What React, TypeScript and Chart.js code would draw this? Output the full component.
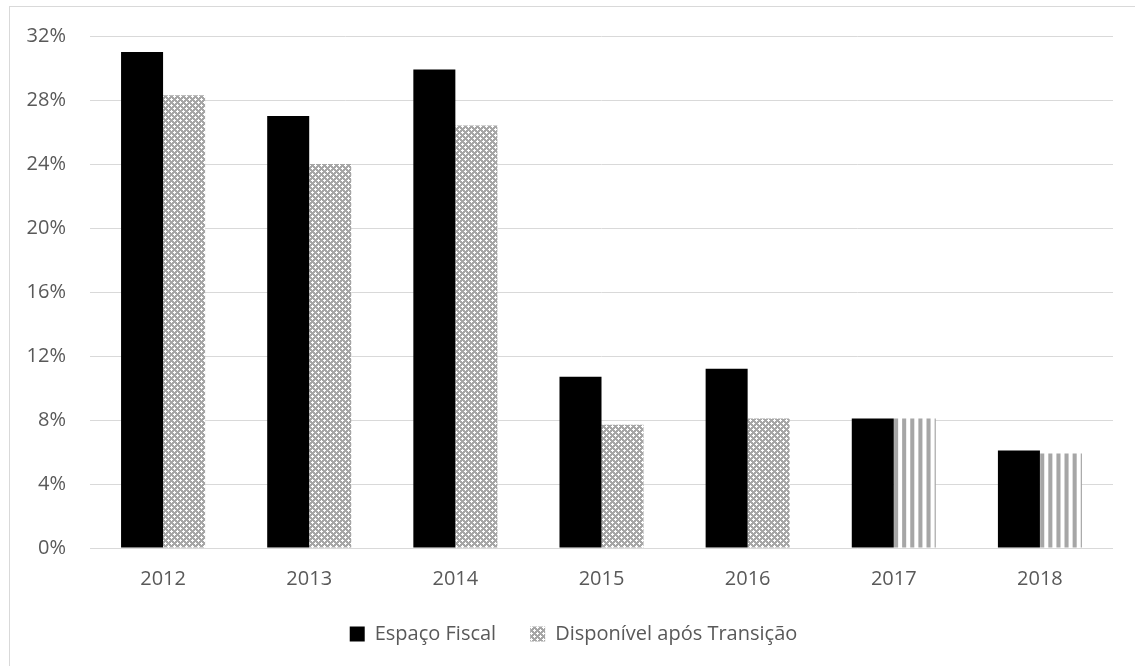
import React, { useEffect, useRef } from "react";
import { Chart, registerables } from "chart.js";

Chart.register(...registerables);

// Anos (categorias do eixo X)
const years = ["2012", "2013", "2014", "2015", "2016", "2017", "2018"];
// Espaço fiscal, em %
const espacoFiscal = [31.0, 27.0, 29.9, 10.7, 11.2, 8.1, 6.1];
// Espaço disponível após a transição, em %
const disponivel = [28.3, 24.0, 26.4, 7.7, 8.1, 8.1, 5.9];
// Anos em que a segunda série usa preenchimento listrado
const listrado = [false, false, false, false, false, true, true];
// Marcas do eixo Y, em %
const yTicks = [0, 4, 8, 12, 16, 20, 24, 28, 32];
const seriesNames = ["Espaço Fiscal", "Disponível após Transição"];

const FONT = "'Open Sans', 'Noto Sans', sans-serif";
const TEXT = "#595959";
const GRID = "#D9D9D9";

function confettiPattern(): CanvasPattern | string {
  const c = document.createElement("canvas");
  c.width = 6;
  c.height = 6;
  const g = c.getContext("2d");
  if (!g) return "#bbbbbb";
  g.fillStyle = "#a6a6a6";
  g.fillRect(0, 0, 6, 6);
  g.fillStyle = "#ffffff";
  const white = [
    [0, 0], [1, 0], [5, 0], [0, 1], [0, 5],
    [3, 3], [2, 3], [4, 3], [3, 2], [3, 4],
  ];
  white.forEach(([x, y]) => g.fillRect(x, y, 1, 1));
  return g.createPattern(c, "repeat") || "#bbbbbb";
}

function stripePattern(): CanvasPattern | string {
  const c = document.createElement("canvas");
  c.width = 8;
  c.height = 8;
  const g = c.getContext("2d");
  if (!g) return "#cccccc";
  g.fillStyle = "#ffffff";
  g.fillRect(0, 0, 8, 8);
  g.fillStyle = "#a6a6a6";
  g.fillRect(0, 0, 4, 8);
  const p = g.createPattern(c, "repeat");
  if (!p) return "#cccccc";
  if (typeof DOMMatrix !== "undefined") {
    p.setTransform(new DOMMatrix().translate(894, 0).scale(146.14 / 18 / 8, 1));
  }
  return p;
}

// Nudges the legend block slightly to the right of the computed centre
const legendOffset = {
  id: "legendOffset",
  afterLayout(chart: any) {
    if (chart.legend) chart.legend.left += 8;
  },
};

export default function App() {
  const canvasRef = useRef<HTMLCanvasElement | null>(null);

  useEffect(() => {
    const canvas = canvasRef.current;
    if (!canvas) return;
    const confetti = confettiPattern();
    const stripes = stripePattern();
    const fills = listrado.map((s) => (s ? stripes : confetti));

    const chart = new Chart(canvas, {
      type: "bar",
      data: {
        labels: years,
        datasets: [
          {
            label: seriesNames[0],
            data: espacoFiscal,
            backgroundColor: "#000000",
            borderWidth: 0,
          },
          {
            label: seriesNames[1],
            data: disponivel,
            backgroundColor: fills as any,
            borderWidth: 0,
          },
        ],
      },
      plugins: [legendOffset],
      options: {
        responsive: false,
        animation: false,
        events: [],
        layout: { padding: { top: 36, right: 22, left: 26, bottom: 12 } },
        datasets: {
          bar: { categoryPercentage: 0.575, barPercentage: 1.0 },
        },
        scales: {
          x: {
            grid: { display: false },
            border: { display: false },
            ticks: {
              color: TEXT,
              font: { family: FONT, size: 20 },
              padding: 11,
              maxRotation: 0,
            },
            afterFit: (scale: any) => {
              scale.height = 42;
            },
          },
          y: {
            min: 0,
            max: 32,
            grid: { color: GRID, lineWidth: 1, drawTicks: false },
            border: { display: false },
            afterBuildTicks: (scale: any) => {
              scale.ticks = yTicks.map((v) => ({ value: v }));
            },
            ticks: {
              color: TEXT,
              font: { family: FONT, size: 20 },
              padding: 24,
              callback: (v: any) => `${v}%`,
            },
            afterFit: (scale: any) => {
              scale.width = 64;
            },
          },
        },
        plugins: {
          tooltip: { enabled: false },
          legend: {
            position: "bottom",
            labels: {
              color: TEXT,
              font: { family: FONT, size: 20 },
              boxWidth: 15,
              boxHeight: 15,
              padding: 34,
              generateLabels: (ch: any) =>
                ch.data.datasets.map((ds: any, i: number) => ({
                  text: ds.label,
                  fillStyle: i === 0 ? "#000000" : confetti,
                  strokeStyle: "rgba(0,0,0,0)",
                  lineWidth: 0,
                  datasetIndex: i,
                  hidden: false,
                  fontColor: TEXT,
                })),
            },
          },
        },
      },
    });
    return () => chart.destroy();
  }, []);

  return (
    <div
      style={{
        position: "fixed",
        left: 0,
        top: 0,
        width: 1135,
        height: 666,
        background: "#ffffff",
        overflow: "hidden",
      }}
    >
      <div
        style={{
          position: "absolute",
          left: 9,
          top: 6,
          width: 1200,
          height: 700,
          borderLeft: `1px solid ${GRID}`,
          borderTop: `1px solid ${GRID}`,
        }}
      />
      <canvas
        ref={canvasRef}
        width={1135}
        height={666}
        style={{ position: "absolute", left: 0, top: 0, width: 1135, height: 666 }}
      />
    </div>
  );
}
